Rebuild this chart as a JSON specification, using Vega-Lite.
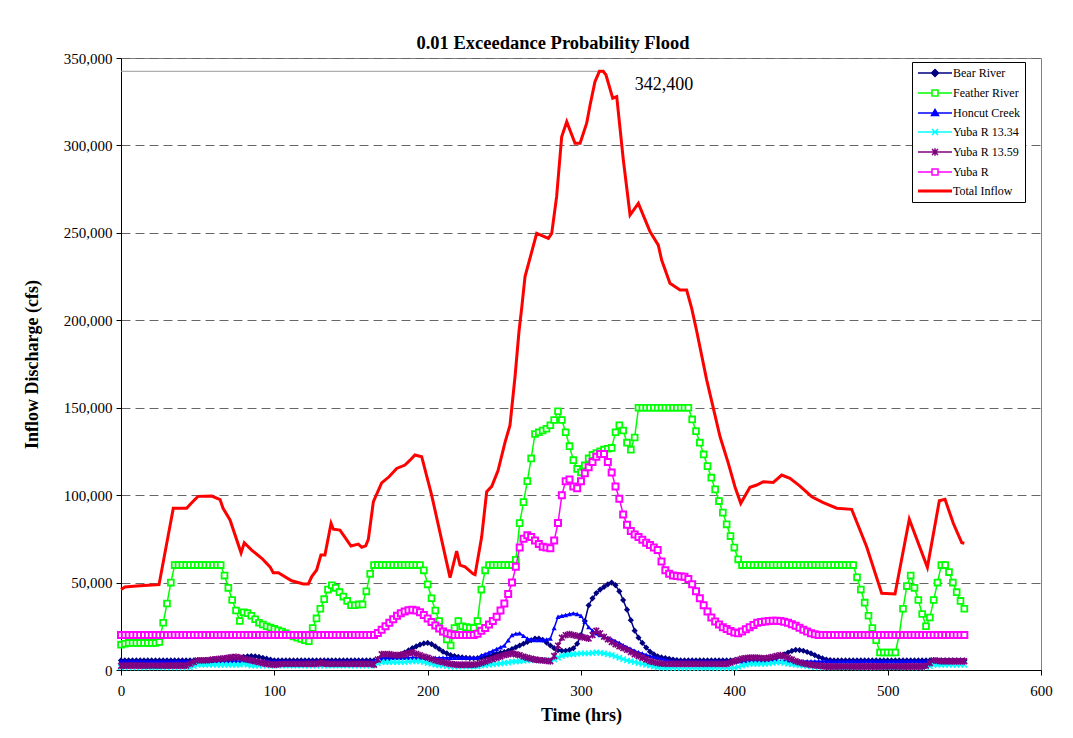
{
"$schema": "https://vega.github.io/schema/vega-lite/v6.json",
"width": 920, "height": 612,
"autosize": {"type": "none"},
"padding": {"left": 121, "top": 58, "right": 32, "bottom": 68},
"background": "white",
"title": {"text": "0.01 Exceedance Probability Flood", "font": "Liberation Serif", "fontSize": 18.5, "fontWeight": "bold", "color": "#000", "offset": -1, "dx": -28},
"datasets": {
"flows": [
{"t":0,"bear":5500,"feather":14500,"honcut":5000,"y1334":1500,"y1359":2300,"yuba":20000},
{"t":2.5,"bear":5500,"feather":15000,"honcut":5000,"y1334":1500,"y1359":2500,"yuba":20000},
{"t":5,"bear":5500,"feather":15500,"honcut":5000,"y1334":1500,"y1359":2500,"yuba":20000},
{"t":7.5,"bear":5500,"feather":15500,"honcut":5000,"y1334":1500,"y1359":2500,"yuba":20000},
{"t":10,"bear":5500,"feather":15500,"honcut":5000,"y1334":1500,"y1359":2500,"yuba":20000},
{"t":12.5,"bear":5500,"feather":15500,"honcut":5000,"y1334":1500,"y1359":2500,"yuba":20000},
{"t":15,"bear":5500,"feather":15500,"honcut":5000,"y1334":1500,"y1359":2500,"yuba":20000},
{"t":17.5,"bear":5500,"feather":15500,"honcut":5000,"y1334":1500,"y1359":2500,"yuba":20000},
{"t":20,"bear":5500,"feather":15500,"honcut":5000,"y1334":1500,"y1359":2500,"yuba":20000},
{"t":22.5,"bear":5500,"feather":15500,"honcut":5000,"y1334":1500,"y1359":2500,"yuba":20000},
{"t":25,"bear":5500,"feather":16000,"honcut":5000,"y1334":1500,"y1359":2500,"yuba":20000},
{"t":27.5,"bear":5500,"feather":27000,"honcut":5000,"y1334":1500,"y1359":2500,"yuba":20000},
{"t":30,"bear":5500,"feather":38000,"honcut":5000,"y1334":1500,"y1359":2500,"yuba":20000},
{"t":32.5,"bear":5500,"feather":50000,"honcut":5000,"y1334":1500,"y1359":2500,"yuba":20000},
{"t":35,"bear":5500,"feather":60000,"honcut":5000,"y1334":1500,"y1359":2500,"yuba":20000},
{"t":37.5,"bear":5500,"feather":60000,"honcut":5000,"y1334":1500,"y1359":2500,"yuba":20000},
{"t":40,"bear":5500,"feather":60000,"honcut":5000,"y1334":1500,"y1359":2500,"yuba":20000},
{"t":42.5,"bear":5500,"feather":60000,"honcut":5000,"y1334":1500,"y1359":2500,"yuba":20000},
{"t":45,"bear":5500,"feather":60000,"honcut":5000,"y1334":1500,"y1359":3500,"yuba":20000},
{"t":47.5,"bear":5500,"feather":60000,"honcut":5000,"y1334":2300,"y1359":4500,"yuba":20000},
{"t":50,"bear":5500,"feather":60000,"honcut":5000,"y1334":3000,"y1359":5500,"yuba":20000},
{"t":52.5,"bear":5500,"feather":60000,"honcut":5000,"y1334":3000,"y1359":5500,"yuba":20000},
{"t":55,"bear":5500,"feather":60000,"honcut":5000,"y1334":3000,"y1359":5500,"yuba":20000},
{"t":57.5,"bear":5500,"feather":60000,"honcut":5000,"y1334":3000,"y1359":5700,"yuba":20000},
{"t":60,"bear":5500,"feather":60000,"honcut":5000,"y1334":3000,"y1359":6000,"yuba":20000},
{"t":62.5,"bear":5500,"feather":60000,"honcut":5000,"y1334":3000,"y1359":6200,"yuba":20000},
{"t":65,"bear":5500,"feather":60000,"honcut":5000,"y1334":3000,"y1359":6500,"yuba":20000},
{"t":67.5,"bear":5500,"feather":54000,"honcut":5000,"y1334":3000,"y1359":6700,"yuba":20000},
{"t":70,"bear":5500,"feather":47000,"honcut":5000,"y1334":3000,"y1359":7000,"yuba":20000},
{"t":72.5,"bear":6000,"feather":40000,"honcut":5000,"y1334":3000,"y1359":7300,"yuba":20000},
{"t":75,"bear":6500,"feather":34000,"honcut":5000,"y1334":3000,"y1359":7500,"yuba":20000},
{"t":77.5,"bear":7000,"feather":28000,"honcut":5000,"y1334":3000,"y1359":7000,"yuba":20000},
{"t":80,"bear":7500,"feather":33000,"honcut":5000,"y1334":3500,"y1359":6500,"yuba":20000},
{"t":82.5,"bear":7800,"feather":32500,"honcut":5000,"y1334":3000,"y1359":6000,"yuba":20000},
{"t":85,"bear":8000,"feather":31000,"honcut":5000,"y1334":2500,"y1359":5500,"yuba":20000},
{"t":87.5,"bear":7800,"feather":29000,"honcut":5000,"y1334":2500,"y1359":5000,"yuba":20000},
{"t":90,"bear":7500,"feather":27000,"honcut":5000,"y1334":2500,"y1359":4500,"yuba":20000},
{"t":92.5,"bear":7000,"feather":26000,"honcut":5000,"y1334":2500,"y1359":4000,"yuba":20000},
{"t":95,"bear":6500,"feather":25000,"honcut":5000,"y1334":2500,"y1359":3500,"yuba":20000},
{"t":97.5,"bear":6000,"feather":24200,"honcut":5000,"y1334":2500,"y1359":3200,"yuba":20000},
{"t":100,"bear":5500,"feather":23500,"honcut":5000,"y1334":2500,"y1359":3000,"yuba":20000},
{"t":102.5,"bear":5500,"feather":22700,"honcut":5000,"y1334":2500,"y1359":3200,"yuba":20000},
{"t":105,"bear":5500,"feather":22000,"honcut":5000,"y1334":2500,"y1359":3500,"yuba":20000},
{"t":107.5,"bear":5500,"feather":21000,"honcut":5000,"y1334":2500,"y1359":3500,"yuba":20000},
{"t":110,"bear":5500,"feather":20000,"honcut":5000,"y1334":2500,"y1359":3500,"yuba":20000},
{"t":112.5,"bear":5500,"feather":19200,"honcut":5000,"y1334":2500,"y1359":3500,"yuba":20000},
{"t":115,"bear":5500,"feather":18500,"honcut":5000,"y1334":2500,"y1359":3500,"yuba":20000},
{"t":117.5,"bear":5500,"feather":17700,"honcut":5000,"y1334":2500,"y1359":3500,"yuba":20000},
{"t":120,"bear":5500,"feather":17000,"honcut":5000,"y1334":2500,"y1359":3500,"yuba":20000},
{"t":122.5,"bear":5500,"feather":16500,"honcut":5000,"y1334":2500,"y1359":3500,"yuba":20000},
{"t":125,"bear":5500,"feather":24000,"honcut":5000,"y1334":2500,"y1359":3500,"yuba":20000},
{"t":127.5,"bear":5500,"feather":29500,"honcut":5000,"y1334":2500,"y1359":3500,"yuba":20000},
{"t":130,"bear":5500,"feather":35000,"honcut":5000,"y1334":2500,"y1359":4000,"yuba":20000},
{"t":132.5,"bear":5500,"feather":40500,"honcut":5000,"y1334":2500,"y1359":3700,"yuba":20000},
{"t":135,"bear":5500,"feather":46000,"honcut":5000,"y1334":2500,"y1359":3500,"yuba":20000},
{"t":137.5,"bear":5500,"feather":48500,"honcut":5000,"y1334":2500,"y1359":3500,"yuba":20000},
{"t":140,"bear":5500,"feather":47000,"honcut":5000,"y1334":2500,"y1359":3500,"yuba":20000},
{"t":142.5,"bear":5500,"feather":44500,"honcut":5000,"y1334":2500,"y1359":3500,"yuba":20000},
{"t":145,"bear":5500,"feather":42000,"honcut":5000,"y1334":2500,"y1359":3500,"yuba":20000},
{"t":147.5,"bear":5500,"feather":39500,"honcut":5000,"y1334":2500,"y1359":3500,"yuba":20000},
{"t":150,"bear":5500,"feather":37000,"honcut":5000,"y1334":2500,"y1359":3500,"yuba":20000},
{"t":152.5,"bear":5500,"feather":37000,"honcut":5000,"y1334":2500,"y1359":3500,"yuba":20000},
{"t":155,"bear":5500,"feather":37500,"honcut":5000,"y1334":2500,"y1359":3500,"yuba":20000},
{"t":157.5,"bear":5500,"feather":37500,"honcut":5000,"y1334":2500,"y1359":3500,"yuba":20000},
{"t":160,"bear":5500,"feather":45000,"honcut":5000,"y1334":2500,"y1359":3500,"yuba":20000},
{"t":162.5,"bear":5500,"feather":55000,"honcut":5000,"y1334":2500,"y1359":3500,"yuba":20000},
{"t":165,"bear":5500,"feather":60000,"honcut":5500,"y1334":3000,"y1359":3000,"yuba":20000},
{"t":167.5,"bear":5500,"feather":60000,"honcut":6200,"y1334":3800,"y1359":6000,"yuba":21200},
{"t":170,"bear":5500,"feather":60000,"honcut":7000,"y1334":4500,"y1359":9000,"yuba":23000},
{"t":172.5,"bear":6000,"feather":60000,"honcut":7000,"y1334":4500,"y1359":9000,"yuba":25000},
{"t":175,"bear":6500,"feather":60000,"honcut":7000,"y1334":4500,"y1359":9000,"yuba":27000},
{"t":177.5,"bear":7200,"feather":60000,"honcut":7000,"y1334":4500,"y1359":8700,"yuba":29000},
{"t":180,"bear":8000,"feather":60000,"honcut":7000,"y1334":4500,"y1359":8500,"yuba":31000},
{"t":182.5,"bear":9000,"feather":60000,"honcut":7000,"y1334":4500,"y1359":8700,"yuba":32400},
{"t":185,"bear":10000,"feather":60000,"honcut":7000,"y1334":4500,"y1359":9000,"yuba":33500},
{"t":187.5,"bear":11200,"feather":60000,"honcut":7000,"y1334":4800,"y1359":9500,"yuba":34200},
{"t":190,"bear":12500,"feather":60000,"honcut":7000,"y1334":5000,"y1359":10000,"yuba":34500},
{"t":192.5,"bear":13500,"feather":60000,"honcut":7000,"y1334":5000,"y1359":9200,"yuba":34000},
{"t":195,"bear":14500,"feather":60000,"honcut":7000,"y1334":5000,"y1359":8500,"yuba":33000},
{"t":197.5,"bear":15200,"feather":57000,"honcut":7000,"y1334":4500,"y1359":7700,"yuba":31500},
{"t":200,"bear":15500,"feather":49000,"honcut":7000,"y1334":4000,"y1359":7000,"yuba":29500},
{"t":202.5,"bear":14800,"feather":41000,"honcut":7000,"y1334":3500,"y1359":6200,"yuba":27500},
{"t":205,"bear":13500,"feather":34000,"honcut":7000,"y1334":3000,"y1359":5500,"yuba":25500},
{"t":207.5,"bear":12000,"feather":28000,"honcut":7000,"y1334":2700,"y1359":5000,"yuba":23700},
{"t":210,"bear":10500,"feather":22000,"honcut":7000,"y1334":2500,"y1359":4500,"yuba":22000},
{"t":212.5,"bear":9500,"feather":17500,"honcut":7000,"y1334":2200,"y1359":4000,"yuba":21000},
{"t":215,"bear":8500,"feather":14000,"honcut":7000,"y1334":2000,"y1359":3500,"yuba":20500},
{"t":217.5,"bear":8000,"feather":24000,"honcut":7000,"y1334":2000,"y1359":3200,"yuba":20000},
{"t":220,"bear":7500,"feather":28000,"honcut":7000,"y1334":2000,"y1359":3000,"yuba":20000},
{"t":222.5,"bear":7200,"feather":25000,"honcut":7000,"y1334":2000,"y1359":3000,"yuba":20000},
{"t":225,"bear":7000,"feather":24500,"honcut":7000,"y1334":2000,"y1359":3000,"yuba":20000},
{"t":227.5,"bear":6800,"feather":24200,"honcut":7000,"y1334":2000,"y1359":3000,"yuba":20000},
{"t":230,"bear":6700,"feather":24000,"honcut":7000,"y1334":2000,"y1359":3000,"yuba":20000},
{"t":232.5,"bear":6800,"feather":28000,"honcut":7000,"y1334":2000,"y1359":3400,"yuba":20800},
{"t":235,"bear":7000,"feather":46000,"honcut":8500,"y1334":2500,"y1359":4000,"yuba":22500},
{"t":237.5,"bear":7500,"feather":57000,"honcut":9200,"y1334":2700,"y1359":4700,"yuba":24000},
{"t":240,"bear":8000,"feather":60000,"honcut":10000,"y1334":3000,"y1359":5500,"yuba":26000},
{"t":242.5,"bear":8600,"feather":60000,"honcut":11000,"y1334":3200,"y1359":6200,"yuba":28000},
{"t":245,"bear":9300,"feather":60000,"honcut":12000,"y1334":3500,"y1359":7000,"yuba":30500},
{"t":247.5,"bear":9800,"feather":60000,"honcut":13000,"y1334":3700,"y1359":7700,"yuba":34000},
{"t":250,"bear":10300,"feather":60000,"honcut":14000,"y1334":4000,"y1359":8500,"yuba":38000},
{"t":252.5,"bear":11000,"feather":60000,"honcut":17000,"y1334":4300,"y1359":9000,"yuba":43500},
{"t":255,"bear":12000,"feather":60000,"honcut":20000,"y1334":4700,"y1359":9500,"yuba":50000},
{"t":257.5,"bear":13000,"feather":63000,"honcut":20800,"y1334":4900,"y1359":9000,"yuba":59000},
{"t":260,"bear":14000,"feather":84000,"honcut":21000,"y1334":5000,"y1359":8500,"yuba":70000},
{"t":262.5,"bear":15000,"feather":96000,"honcut":19500,"y1334":5200,"y1359":7700,"yuba":75000},
{"t":265,"bear":16000,"feather":108000,"honcut":18000,"y1334":5500,"y1359":7000,"yuba":77000},
{"t":267.5,"bear":17000,"feather":121000,"honcut":17500,"y1334":5500,"y1359":6500,"yuba":76000},
{"t":270,"bear":18000,"feather":135000,"honcut":17200,"y1334":5500,"y1359":6000,"yuba":74000},
{"t":272.5,"bear":18000,"feather":136000,"honcut":17200,"y1334":5500,"y1359":5700,"yuba":72000},
{"t":275,"bear":17300,"feather":137000,"honcut":17200,"y1334":5500,"y1359":5500,"yuba":70500},
{"t":277.5,"bear":15700,"feather":138000,"honcut":17500,"y1334":5500,"y1359":5200,"yuba":70000},
{"t":280,"bear":14000,"feather":140000,"honcut":18000,"y1334":5500,"y1359":5000,"yuba":69600},
{"t":282.5,"bear":12500,"feather":143000,"honcut":24000,"y1334":6000,"y1359":8000,"yuba":74000},
{"t":285,"bear":11300,"feather":148000,"honcut":30500,"y1334":7000,"y1359":14000,"yuba":84000},
{"t":287.5,"bear":11000,"feather":143000,"honcut":31000,"y1334":8000,"y1359":18500,"yuba":100000},
{"t":290,"bear":11000,"feather":136000,"honcut":31500,"y1334":8600,"y1359":20000,"yuba":108000},
{"t":292.5,"bear":11500,"feather":128000,"honcut":32000,"y1334":8800,"y1359":20500,"yuba":109000},
{"t":295,"bear":12400,"feather":120000,"honcut":32400,"y1334":9000,"y1359":20000,"yuba":105000},
{"t":297.5,"bear":15000,"feather":115000,"honcut":32000,"y1334":9200,"y1359":19500,"yuba":104000},
{"t":300,"bear":20000,"feather":113000,"honcut":31000,"y1334":9500,"y1359":19000,"yuba":108000},
{"t":302.5,"bear":28000,"feather":117000,"honcut":27500,"y1334":9500,"y1359":18500,"yuba":112500},
{"t":305,"bear":37000,"feather":121000,"honcut":24500,"y1334":9500,"y1359":18000,"yuba":116000},
{"t":307.5,"bear":41000,"feather":123000,"honcut":22500,"y1334":9700,"y1359":20000,"yuba":119000},
{"t":310,"bear":44000,"feather":124000,"honcut":21000,"y1334":10000,"y1359":22500,"yuba":122000},
{"t":312.5,"bear":46000,"feather":125000,"honcut":20000,"y1334":9800,"y1359":21000,"yuba":123500},
{"t":315,"bear":47500,"feather":126000,"honcut":19000,"y1334":9500,"y1359":19000,"yuba":123500},
{"t":317.5,"bear":49000,"feather":126500,"honcut":18200,"y1334":9000,"y1359":17500,"yuba":119000},
{"t":320,"bear":50000,"feather":127000,"honcut":17500,"y1334":8600,"y1359":16000,"yuba":113000},
{"t":322.5,"bear":48500,"feather":136000,"honcut":16500,"y1334":7800,"y1359":14700,"yuba":105000},
{"t":325,"bear":45000,"feather":140000,"honcut":15500,"y1334":7000,"y1359":13500,"yuba":98000},
{"t":327.5,"bear":40000,"feather":137000,"honcut":14200,"y1334":6200,"y1359":12500,"yuba":89000},
{"t":330,"bear":34500,"feather":130000,"honcut":13000,"y1334":5500,"y1359":11500,"yuba":83000},
{"t":332.5,"bear":28500,"feather":126000,"honcut":12000,"y1334":5000,"y1359":10200,"yuba":79500},
{"t":335,"bear":22500,"feather":133000,"honcut":11000,"y1334":4500,"y1359":9000,"yuba":77500},
{"t":337.5,"bear":18500,"feather":150000,"honcut":10200,"y1334":4000,"y1359":8000,"yuba":76000},
{"t":340,"bear":15500,"feather":150000,"honcut":9500,"y1334":3500,"y1359":7000,"yuba":74500},
{"t":342.5,"bear":12800,"feather":150000,"honcut":8700,"y1334":3000,"y1359":6000,"yuba":72800},
{"t":345,"bear":10500,"feather":150000,"honcut":8000,"y1334":2500,"y1359":5000,"yuba":71500},
{"t":347.5,"bear":9000,"feather":150000,"honcut":7500,"y1334":2000,"y1359":4500,"yuba":70000},
{"t":350,"bear":7800,"feather":150000,"honcut":7000,"y1334":1500,"y1359":4000,"yuba":68600},
{"t":352.5,"bear":7200,"feather":150000,"honcut":6500,"y1334":1300,"y1359":3700,"yuba":62000},
{"t":355,"bear":6800,"feather":150000,"honcut":6000,"y1334":1200,"y1359":3500,"yuba":57000},
{"t":357.5,"bear":6400,"feather":150000,"honcut":5500,"y1334":1200,"y1359":3500,"yuba":55000},
{"t":360,"bear":6000,"feather":150000,"honcut":5000,"y1334":1200,"y1359":3500,"yuba":54000},
{"t":362.5,"bear":5700,"feather":150000,"honcut":5000,"y1334":1200,"y1359":3500,"yuba":53700},
{"t":365,"bear":5500,"feather":150000,"honcut":5000,"y1334":1200,"y1359":3500,"yuba":53500},
{"t":367.5,"bear":5500,"feather":150000,"honcut":5000,"y1334":1200,"y1359":3500,"yuba":53400},
{"t":370,"bear":5500,"feather":150000,"honcut":5000,"y1334":1200,"y1359":3500,"yuba":52000},
{"t":372.5,"bear":5500,"feather":143300,"honcut":5000,"y1334":1200,"y1359":3500,"yuba":49000},
{"t":375,"bear":5500,"feather":136600,"honcut":5000,"y1334":1200,"y1359":3500,"yuba":45000},
{"t":377.5,"bear":5500,"feather":130000,"honcut":5000,"y1334":1200,"y1359":3500,"yuba":41000},
{"t":380,"bear":5500,"feather":123300,"honcut":5000,"y1334":1200,"y1359":3500,"yuba":37000},
{"t":382.5,"bear":5500,"feather":116600,"honcut":5000,"y1334":1200,"y1359":3500,"yuba":33500},
{"t":385,"bear":5500,"feather":110000,"honcut":5000,"y1334":1200,"y1359":3500,"yuba":30000},
{"t":387.5,"bear":5500,"feather":103300,"honcut":5000,"y1334":1200,"y1359":3500,"yuba":27800},
{"t":390,"bear":5500,"feather":96600,"honcut":5000,"y1334":1200,"y1359":3500,"yuba":26000},
{"t":392.5,"bear":5500,"feather":90000,"honcut":5000,"y1334":1200,"y1359":3500,"yuba":24500},
{"t":395,"bear":5500,"feather":83300,"honcut":5000,"y1334":1200,"y1359":3500,"yuba":23500},
{"t":397.5,"bear":5500,"feather":76600,"honcut":5000,"y1334":1200,"y1359":4200,"yuba":22300},
{"t":400,"bear":5500,"feather":70000,"honcut":5000,"y1334":1200,"y1359":5000,"yuba":21500},
{"t":402.5,"bear":5500,"feather":63300,"honcut":5000,"y1334":1800,"y1359":5800,"yuba":21000},
{"t":405,"bear":5500,"feather":60000,"honcut":5000,"y1334":2500,"y1359":6500,"yuba":22000},
{"t":407.5,"bear":5500,"feather":60000,"honcut":5000,"y1334":3000,"y1359":6800,"yuba":23300},
{"t":410,"bear":5500,"feather":60000,"honcut":5000,"y1334":3500,"y1359":7000,"yuba":24500},
{"t":412.5,"bear":5500,"feather":60000,"honcut":5000,"y1334":3500,"y1359":7000,"yuba":25800},
{"t":415,"bear":5500,"feather":60000,"honcut":5000,"y1334":3500,"y1359":7000,"yuba":27000},
{"t":417.5,"bear":5500,"feather":60000,"honcut":5000,"y1334":3500,"y1359":6800,"yuba":27500},
{"t":420,"bear":5500,"feather":60000,"honcut":5000,"y1334":3500,"y1359":6700,"yuba":27800},
{"t":422.5,"bear":5500,"feather":60000,"honcut":5000,"y1334":3700,"y1359":7000,"yuba":28000},
{"t":425,"bear":6000,"feather":60000,"honcut":5000,"y1334":4000,"y1359":7500,"yuba":28200},
{"t":427.5,"bear":7000,"feather":60000,"honcut":5000,"y1334":4200,"y1359":8000,"yuba":28200},
{"t":430,"bear":8000,"feather":60000,"honcut":5000,"y1334":4500,"y1359":8500,"yuba":28000},
{"t":432.5,"bear":9000,"feather":60000,"honcut":5000,"y1334":4000,"y1359":7800,"yuba":27600},
{"t":435,"bear":10000,"feather":60000,"honcut":5000,"y1334":3500,"y1359":7000,"yuba":27000},
{"t":437.5,"bear":10900,"feather":60000,"honcut":5000,"y1334":3200,"y1359":6000,"yuba":26200},
{"t":440,"bear":11500,"feather":60000,"honcut":5000,"y1334":3000,"y1359":5000,"yuba":25300},
{"t":442.5,"bear":11400,"feather":60000,"honcut":5000,"y1334":2700,"y1359":4400,"yuba":24200},
{"t":445,"bear":11000,"feather":60000,"honcut":5000,"y1334":2500,"y1359":3800,"yuba":23000},
{"t":447.5,"bear":10300,"feather":60000,"honcut":5000,"y1334":2200,"y1359":3400,"yuba":22000},
{"t":450,"bear":9500,"feather":60000,"honcut":5000,"y1334":2000,"y1359":3000,"yuba":21000},
{"t":452.5,"bear":8500,"feather":60000,"honcut":5000,"y1334":1700,"y1359":2700,"yuba":20500},
{"t":455,"bear":7500,"feather":60000,"honcut":5000,"y1334":1500,"y1359":2500,"yuba":20000},
{"t":457.5,"bear":6700,"feather":60000,"honcut":5000,"y1334":1500,"y1359":2200,"yuba":20000},
{"t":460,"bear":6000,"feather":60000,"honcut":5000,"y1334":1500,"y1359":2000,"yuba":20000},
{"t":462.5,"bear":5700,"feather":60000,"honcut":5000,"y1334":1500,"y1359":2000,"yuba":20000},
{"t":465,"bear":5500,"feather":60000,"honcut":5000,"y1334":1500,"y1359":2000,"yuba":20000},
{"t":467.5,"bear":5500,"feather":60000,"honcut":5000,"y1334":1500,"y1359":2000,"yuba":20000},
{"t":470,"bear":5500,"feather":60000,"honcut":5000,"y1334":1500,"y1359":2000,"yuba":20000},
{"t":472.5,"bear":5500,"feather":60000,"honcut":5000,"y1334":1500,"y1359":2000,"yuba":20000},
{"t":475,"bear":5500,"feather":60000,"honcut":5000,"y1334":1500,"y1359":2000,"yuba":20000},
{"t":477.5,"bear":5500,"feather":60000,"honcut":5000,"y1334":1500,"y1359":2000,"yuba":20000},
{"t":480,"bear":5500,"feather":53000,"honcut":5000,"y1334":1500,"y1359":2000,"yuba":20000},
{"t":482.5,"bear":5500,"feather":46000,"honcut":5000,"y1334":1500,"y1359":2000,"yuba":20000},
{"t":485,"bear":5500,"feather":38500,"honcut":5000,"y1334":1500,"y1359":2000,"yuba":20000},
{"t":487.5,"bear":5500,"feather":31000,"honcut":5000,"y1334":1500,"y1359":2000,"yuba":20000},
{"t":490,"bear":5500,"feather":24000,"honcut":5000,"y1334":1500,"y1359":2000,"yuba":20000},
{"t":492.5,"bear":5500,"feather":17000,"honcut":5000,"y1334":1500,"y1359":2000,"yuba":20000},
{"t":495,"bear":5500,"feather":10000,"honcut":5000,"y1334":1500,"y1359":2000,"yuba":20000},
{"t":497.5,"bear":5500,"feather":10000,"honcut":5000,"y1334":1500,"y1359":2000,"yuba":20000},
{"t":500,"bear":5500,"feather":10000,"honcut":5000,"y1334":1500,"y1359":2000,"yuba":20000},
{"t":502.5,"bear":5500,"feather":10000,"honcut":5000,"y1334":1500,"y1359":2000,"yuba":20000},
{"t":505,"bear":5500,"feather":10000,"honcut":5000,"y1334":1500,"y1359":2000,"yuba":20000},
{"t":507.5,"bear":5500,"feather":20000,"honcut":5000,"y1334":1500,"y1359":2000,"yuba":20000},
{"t":510,"bear":5500,"feather":35000,"honcut":5000,"y1334":1500,"y1359":2000,"yuba":20000},
{"t":512.5,"bear":5500,"feather":48000,"honcut":5000,"y1334":1500,"y1359":2000,"yuba":20000},
{"t":515,"bear":5500,"feather":54000,"honcut":5000,"y1334":1500,"y1359":2000,"yuba":20000},
{"t":517.5,"bear":5500,"feather":47000,"honcut":5000,"y1334":1500,"y1359":2000,"yuba":20000},
{"t":520,"bear":5500,"feather":40000,"honcut":5000,"y1334":1500,"y1359":2000,"yuba":20000},
{"t":522.5,"bear":5500,"feather":32000,"honcut":5000,"y1334":1500,"y1359":2000,"yuba":20000},
{"t":525,"bear":5500,"feather":25000,"honcut":5000,"y1334":1500,"y1359":2500,"yuba":20000},
{"t":527.5,"bear":5500,"feather":30000,"honcut":5000,"y1334":2200,"y1359":4000,"yuba":20000},
{"t":530,"bear":5500,"feather":40000,"honcut":5000,"y1334":3000,"y1359":5500,"yuba":20000},
{"t":532.5,"bear":5500,"feather":50000,"honcut":5000,"y1334":3000,"y1359":5200,"yuba":20000},
{"t":535,"bear":5500,"feather":60000,"honcut":5000,"y1334":3000,"y1359":5000,"yuba":20000},
{"t":537.5,"bear":5500,"feather":60000,"honcut":5000,"y1334":3000,"y1359":5000,"yuba":20000},
{"t":540,"bear":5500,"feather":56000,"honcut":5000,"y1334":3000,"y1359":5000,"yuba":20000},
{"t":542.5,"bear":5500,"feather":50000,"honcut":5000,"y1334":3000,"y1359":5000,"yuba":20000},
{"t":545,"bear":5500,"feather":44500,"honcut":5000,"y1334":3000,"y1359":5000,"yuba":20000},
{"t":547.5,"bear":5500,"feather":39500,"honcut":5000,"y1334":3000,"y1359":5000,"yuba":20000},
{"t":550,"bear":5500,"feather":35000,"honcut":5000,"y1334":3000,"y1359":5000,"yuba":20000}
],
"total": [
{"t":0,"total":46000},{"t":2.6,"total":47500},{"t":10,"total":48000},{"t":17.6,"total":48500},{"t":24.8,"total":48800},
{"t":34.1,"total":92500},{"t":42.8,"total":92500},{"t":46.1,"total":95700},{"t":50.2,"total":99300},{"t":59.2,"total":99500},
{"t":64.6,"total":97500},{"t":66.5,"total":92600},{"t":71.1,"total":85800},{"t":78.3,"total":67000},{"t":80.4,"total":72800},
{"t":85.2,"total":68600},{"t":91.8,"total":63900},{"t":97.2,"total":59000},{"t":99.3,"total":55600},{"t":102.6,"total":55600},
{"t":111.3,"total":51000},{"t":118.9,"total":49200},{"t":122.2,"total":49200},{"t":124.4,"total":53400},{"t":127.6,"total":57200},
{"t":130.4,"total":65800},{"t":133,"total":65800},{"t":137,"total":83900},{"t":138.5,"total":80500},{"t":142.8,"total":80000},
{"t":146.1,"total":75900},{"t":150,"total":70900},{"t":154.8,"total":72000},{"t":157,"total":70200},{"t":159.6,"total":71000},
{"t":161.3,"total":74700},{"t":164.6,"total":96300},{"t":170,"total":107000},{"t":174.8,"total":110500},{"t":179.8,"total":115300},
{"t":185.2,"total":117200},{"t":188.5,"total":120000},{"t":191.7,"total":123000},{"t":196.1,"total":122000},{"t":202.6,"total":100000},
{"t":214.6,"total":52800},{"t":218.9,"total":68000},{"t":221.1,"total":60000},{"t":224.4,"total":59000},{"t":229.6,"total":55000},
{"t":230.9,"total":54500},{"t":235.2,"total":76000},{"t":238.5,"total":102000},{"t":241.8,"total":105000},{"t":245.9,"total":114000},
{"t":250.4,"total":130000},{"t":253.7,"total":140000},{"t":257,"total":168000},{"t":259.6,"total":194000},{"t":261.3,"total":206800},
{"t":263.5,"total":225000},{"t":266.7,"total":235400},{"t":271.1,"total":249700},{"t":278.7,"total":246900},{"t":280.9,"total":249700},
{"t":284.1,"total":270700},{"t":287.4,"total":305000},{"t":290.7,"total":313600},{"t":296.1,"total":301200},{"t":299.4,"total":301200},
{"t":303.7,"total":312700},{"t":305.9,"total":323000},{"t":309.1,"total":336500},{"t":312,"total":342400},{"t":314.5,"total":342400},
{"t":316.3,"total":340300},{"t":320.7,"total":327000},{"t":323.3,"total":327900},{"t":327.6,"total":291700},{"t":332,"total":260200},
{"t":337.4,"total":266900},{"t":345,"total":250700},{"t":350.4,"total":243000},{"t":352.6,"total":234500},{"t":358,"total":221200},
{"t":364.6,"total":217300},{"t":368.9,"total":217300},{"t":372.2,"total":206800},{"t":375.4,"total":194000},{"t":382,"total":165800},
{"t":390.7,"total":133400},{"t":396.1,"total":118200},{"t":400.4,"total":104800},{"t":404.2,"total":95300},{"t":410.2,"total":104500},
{"t":414.6,"total":105800},{"t":418.9,"total":107700},{"t":425.4,"total":107300},{"t":430.9,"total":111500},{"t":436.3,"total":109600},
{"t":442.8,"total":105200},{"t":450.5,"total":99100},{"t":458,"total":95700},{"t":466.8,"total":92500},{"t":476.5,"total":91900},
{"t":486.3,"total":70500},{"t":496.1,"total":43900},{"t":504.8,"total":43500},{"t":514.1,"total":86200},{"t":525.9,"total":58700},
{"t":533.7,"total":96800},{"t":537.4,"total":97600},{"t":542.8,"total":83900},{"t":548.3,"total":72800},{"t":550,"total":72500}
],
"peak": [{"t0":0,"t":313.5,"total":342400}]
},
"data": {"name": "flows"},
"layer": [
{"data": {"name": "peak"}, "mark": {"type": "rule", "color": "#999999", "strokeWidth": 1},
 "encoding": {"x": {"field": "t0", "type": "quantitative", "scale": {"domain": [0, 600], "nice": false}, "title": "Time (hrs)", "axis": {"values": [0,100,200,300,400,500,600]}},
  "x2": {"field": "t"},
  "y": {"field": "total", "type": "quantitative", "scale": {"domain": [0, 350000], "nice": false}, "title": "Inflow Discharge (cfs)", "axis": {"values": [0,50000,100000,150000,200000,250000,300000,350000], "format": ",d"}}}},
{"mark": {"type": "line", "strokeWidth": 1.5},
 "encoding": {"x": {"field": "t", "type": "quantitative"}, "y": {"field": "bear", "type": "quantitative"},
  "stroke": {"datum": "Bear River", "type": "nominal",
   "scale": {"domain": ["Bear River","Feather River","Honcut Creek","Yuba R 13.34","Yuba R 13.59","Yuba R","Total Inflow"], "range": ["#000080","#00FF00","#0000FF","#00FFFF","#800080","#FF00FF","#FF0000"]},
   "legend": {"title": null, "orient": "none", "legendX": 791, "legendY": 4, "strokeColor": "#000", "fillColor": "white", "padding": 5,
    "labelFont": "Liberation Serif", "labelFontSize": 12, "labelColor": "#000", "symbolSize": 100, "rowPadding": 7, "labelOffset": 24,
    "encode": {"symbols": {"update": {
      "shape": {"signal": "datum.value==='Bear River'?'M-1,0H5.8M2.4,-0.7L3.1,0L2.4,0.7L1.7,0Z':(datum.value==='Feather River'||datum.value==='Yuba R')?'M-1,0H1.8M3,0H5.8M1.8,-0.6H3V0.6H1.8Z':datum.value==='Honcut Creek'?'M-1,0H5.8M2.4,-0.7L3.1,0.5H1.7Z':datum.value==='Yuba R 13.34'?'M-1,0H5.8M1.8,-0.6L3,0.6M1.8,0.6L3,-0.6':datum.value==='Yuba R 13.59'?'M-1,0H5.8M1.8,-0.6L3,0.6M1.8,0.6L3,-0.6M2.4,-0.75V0.75':'M-1,0H5.8'"},
      "fill": {"signal": "datum.value==='Bear River'?'#000080':datum.value==='Honcut Creek'?'#0000FF':(datum.value==='Feather River'||datum.value==='Yuba R')?'#ffffff':'transparent'"},
      "strokeWidth": {"signal": "datum.value==='Total Inflow'?3:1.5"},
      "opacity": {"value": 1}}}}}}}},
{"mark": {"type": "point", "shape": "diamond", "filled": true, "color": "#000080", "size": 38, "opacity": 1},
 "encoding": {"x": {"field": "t", "type": "quantitative"}, "y": {"field": "bear", "type": "quantitative"}}},
{"mark": {"type": "line", "strokeWidth": 1.5},
 "encoding": {"x": {"field": "t", "type": "quantitative"}, "y": {"field": "feather", "type": "quantitative"}, "stroke": {"datum": "Feather River", "type": "nominal"}}},
{"mark": {"type": "point", "shape": "square", "filled": true, "fill": "white", "stroke": "#00FF00", "strokeWidth": 1.8, "size": 34, "opacity": 1},
 "encoding": {"x": {"field": "t", "type": "quantitative"}, "y": {"field": "feather", "type": "quantitative"}}},
{"mark": {"type": "line", "strokeWidth": 1.5},
 "encoding": {"x": {"field": "t", "type": "quantitative"}, "y": {"field": "honcut", "type": "quantitative"}, "stroke": {"datum": "Honcut Creek", "type": "nominal"}}},
{"mark": {"type": "point", "shape": "triangle-up", "filled": true, "color": "#0000FF", "size": 26, "opacity": 1},
 "encoding": {"x": {"field": "t", "type": "quantitative"}, "y": {"field": "honcut", "type": "quantitative"}}},
{"mark": {"type": "line", "strokeWidth": 1.5},
 "encoding": {"x": {"field": "t", "type": "quantitative"}, "y": {"field": "y1334", "type": "quantitative"}, "stroke": {"datum": "Yuba R 13.34", "type": "nominal"}}},
{"mark": {"type": "point", "shape": "M-1,-1L1,1M-1,1L1,-1", "filled": false, "color": "#00FFFF", "strokeWidth": 1.6, "size": 28, "opacity": 1},
 "encoding": {"x": {"field": "t", "type": "quantitative"}, "y": {"field": "y1334", "type": "quantitative"}}},
{"mark": {"type": "line", "strokeWidth": 1.5},
 "encoding": {"x": {"field": "t", "type": "quantitative"}, "y": {"field": "y1359", "type": "quantitative"}, "stroke": {"datum": "Yuba R 13.59", "type": "nominal"}}},
{"mark": {"type": "point", "shape": "M-1,-1L1,1M-1,1L1,-1M0,-1.2V1.2", "filled": false, "color": "#800080", "strokeWidth": 1.6, "size": 32, "opacity": 1},
 "encoding": {"x": {"field": "t", "type": "quantitative"}, "y": {"field": "y1359", "type": "quantitative"}}},
{"mark": {"type": "line", "strokeWidth": 1.5},
 "encoding": {"x": {"field": "t", "type": "quantitative"}, "y": {"field": "yuba", "type": "quantitative"}, "stroke": {"datum": "Yuba R", "type": "nominal"}}},
{"mark": {"type": "point", "shape": "square", "filled": true, "fill": "white", "stroke": "#FF00FF", "strokeWidth": 2, "size": 36, "opacity": 1},
 "encoding": {"x": {"field": "t", "type": "quantitative"}, "y": {"field": "yuba", "type": "quantitative"}}},
{"data": {"name": "total"}, "mark": {"type": "line", "strokeWidth": 3},
 "encoding": {"x": {"field": "t", "type": "quantitative"}, "y": {"field": "total", "type": "quantitative"}, "stroke": {"datum": "Total Inflow", "type": "nominal"}}},
{"data": {"name": "peak"}, "mark": {"type": "text", "align": "left", "baseline": "middle", "dx": 33, "dy": 14, "font": "Liberation Serif", "fontSize": 18, "color": "#000"},
 "encoding": {"x": {"field": "t", "type": "quantitative"}, "y": {"field": "total", "type": "quantitative"}, "text": {"field": "total", "type": "quantitative", "format": ",d"}}}
],
"config": {
 "view": {"stroke": "#808080", "strokeWidth": 1},
 "axis": {"labelFont": "Liberation Serif", "titleFont": "Liberation Serif", "labelColor": "#000", "titleColor": "#000", "domainColor": "#000", "tickColor": "#000", "labelFontSize": 15, "titleFontSize": 18, "titleFontWeight": "bold", "tickSize": 5, "domainWidth": 1, "tickWidth": 1},
 "axisX": {"grid": false, "labelPadding": 8, "titlePadding": 8, "labelFlush": false},
 "axisY": {"grid": true, "gridDash": [9, 5], "gridColor": "#666666", "gridWidth": 1, "labelPadding": 4, "titlePadding": 22}
}
}
